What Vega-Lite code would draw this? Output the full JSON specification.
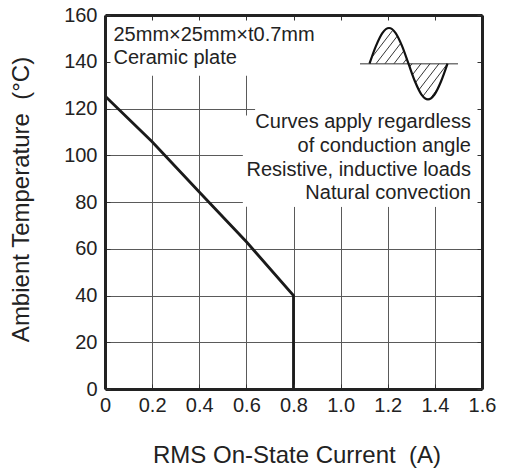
{
  "$schema": "https://vega.github.io/schema/vega-lite/v6.json",
  "width": 377,
  "height": 374,
  "autosize": {"type": "none"},
  "padding": {"left": 105, "top": 15, "right": 23, "bottom": 84},
  "background": "white",
  "config": {"font": "Liberation Sans", "view": {"stroke": null}},
  "datasets": {
    "curve": [
      {"i": 0, "current": 0, "temp": 125.3},
      {"i": 1, "current": 0.2, "temp": 105.8},
      {"i": 2, "current": 0.4, "temp": 84.3},
      {"i": 3, "current": 0.6, "temp": 63},
      {"i": 4, "current": 0.8, "temp": 40},
      {"i": 5, "current": 0.8, "temp": 0}
    ],
    "boxes": [
      {"x": 0, "x2": 1.6, "y": 134, "y2": 160},
      {"x": 0.637, "x2": 1.6, "y": 78, "y2": 160},
      {"x": 0.585, "x2": 1.6, "y": 78, "y2": 117}
    ],
    "wave": [
      {"x": 1.12255, "y": 139.17},
      {"x": 1.15013, "y": 146.80},
      {"x": 1.17772, "y": 152.39},
      {"x": 1.20531, "y": 154.44},
      {"x": 1.23289, "y": 152.39},
      {"x": 1.26048, "y": 146.80},
      {"x": 1.28806, "y": 139.17},
      {"x": 1.31565, "y": 131.53},
      {"x": 1.34324, "y": 125.94},
      {"x": 1.37082, "y": 123.89},
      {"x": 1.39841, "y": 125.94},
      {"x": 1.42599, "y": 131.53},
      {"x": 1.45358, "y": 139.17}
    ],
    "baseline": [{"x": 1.0822, "x2": 1.4981, "y": 139.17}],
    "hatch": [
      {"x": 1.13188, "y": 141.78, "x2": 1.22016, "y2": 153.33},
      {"x": 1.15013, "y": 139.17, "x2": 1.24011, "y2": 150.93},
      {"x": 1.18833, "y": 139.17, "x2": 1.25496, "y2": 147.89},
      {"x": 1.22653, "y": 139.17, "x2": 1.26812, "y2": 144.64},
      {"x": 1.26472, "y": 139.17, "x2": 1.28042, "y2": 141.22},
      {"x": 1.29273, "y": 137.84, "x2": 1.30292, "y2": 139.17},
      {"x": 1.30504, "y": 134.46, "x2": 1.34111, "y2": 139.17},
      {"x": 1.31777, "y": 131.08, "x2": 1.37931, "y2": 139.17},
      {"x": 1.33263, "y": 128.04, "x2": 1.41751, "y2": 139.17},
      {"x": 1.35045, "y": 125.39, "x2": 1.45146, "y2": 138.91},
      {"x": 1.38568, "y": 125.01, "x2": 1.40859, "y2": 128.00}
    ],
    "notesLeft": [
      {"x": 0.036, "y": 148.9, "text": "25mm×25mm×t0.7mm"},
      {"x": 0.036, "y": 139.25, "text": "Ceramic plate"}
    ],
    "notesRight": [
      {"x": 1.5533, "y": 111.66, "text": "Curves apply regardless"},
      {"x": 1.5533, "y": 101.39, "text": "of conduction angle"},
      {"x": 1.5533, "y": 91.12, "text": "Resistive, inductive loads"},
      {"x": 1.5533, "y": 81.28, "text": "Natural convection"}
    ]
  },
  "layer": [
    {
      "data": {"name": "boxes"},
      "mark": {"type": "rect", "color": "white", "strokeWidth": 0},
      "encoding": {
        "x": {"field": "x", "type": "quantitative", "scale": {"domain": [0, 1.6], "nice": false},
          "axis": {"orient": "bottom", "grid": true, "gridColor": "#5a5a5a", "gridWidth": 1, "domain": false, "ticks": false, "labels": false, "title": null, "values": [0, 0.2, 0.4, 0.6, 0.8, 1.0, 1.2, 1.4, 1.6], "zindex": 0}},
        "x2": {"field": "x2"},
        "y": {"field": "y", "type": "quantitative", "scale": {"domain": [0, 160], "nice": false},
          "axis": {"orient": "left", "grid": true, "gridColor": "#5a5a5a", "gridWidth": 1, "domain": false, "ticks": false, "labels": false, "title": null, "values": [0, 20, 40, 60, 80, 100, 120, 140, 160], "zindex": 0}},
        "y2": {"field": "y2"}
      }
    },
    {
      "data": {"name": "curve"},
      "mark": {"type": "line", "color": "#1a1a1a", "strokeWidth": 2.8},
      "encoding": {
        "x": {"field": "current", "type": "quantitative", "scale": {"domain": [0, 1.6], "nice": false},
          "axis": {"orient": "bottom", "grid": false, "values": [0, 0.2, 0.4, 0.6, 0.8, 1.0, 1.2, 1.4, 1.6],
            "labelExpr": "datum.value == 0 ? '0' : format(datum.value, '.1f')",
            "labelFontSize": 20, "labelColor": "#222", "labelPadding": 11.5, "labelFlush": false, "labelOverlap": false,
            "tickSize": -5, "tickColor": "#333", "tickWidth": 1,
            "domainColor": "#222", "domainWidth": 3,
            "title": "RMS On-State Current\u00a0\u00a0(A)", "titleFontSize": 24, "titleFontWeight": "normal", "titleColor": "#222",
            "titleX": 191.5, "titleY": 73, "titleBaseline": "alphabetic", "titleAlign": "center", "zindex": 1}},
        "y": {"field": "temp", "type": "quantitative", "scale": {"domain": [0, 160], "nice": false},
          "axis": {"orient": "left", "grid": false, "values": [0, 20, 40, 60, 80, 100, 120, 140, 160],
            "labelFontSize": 20, "labelColor": "#222", "labelPadding": 13, "labelOverlap": false,
            "tickSize": -5, "tickColor": "#333", "tickWidth": 1,
            "domainColor": "#222", "domainWidth": 3,
            "title": "Ambient Temperature\u00a0\u00a0(°C)", "titleFontSize": 24, "titleFontWeight": "normal", "titleColor": "#222",
            "titleX": -77, "titleY": 184, "titleAngle": 270, "titleBaseline": "alphabetic", "titleAlign": "center", "zindex": 1}},
        "order": {"field": "i"}
      }
    },
    {
      "data": {"name": "baseline"},
      "mark": {"type": "rule", "color": "#777", "strokeWidth": 1.5},
      "encoding": {
        "x": {"field": "x", "type": "quantitative", "axis": null},
        "x2": {"field": "x2"},
        "y": {"field": "y", "type": "quantitative", "axis": null}
      }
    },
    {
      "data": {"name": "hatch"},
      "mark": {"type": "rule", "color": "#333", "strokeWidth": 1},
      "encoding": {
        "x": {"field": "x", "type": "quantitative", "axis": null},
        "x2": {"field": "x2"},
        "y": {"field": "y", "type": "quantitative", "axis": null},
        "y2": {"field": "y2"}
      }
    },
    {
      "data": {"name": "wave"},
      "mark": {"type": "line", "color": "#111", "strokeWidth": 2.2, "interpolate": "monotone"},
      "encoding": {
        "x": {"field": "x", "type": "quantitative", "axis": null},
        "y": {"field": "y", "type": "quantitative", "axis": null}
      }
    },
    {
      "data": {"name": "notesLeft"},
      "mark": {"type": "text", "align": "left", "baseline": "alphabetic", "fontSize": 20, "color": "#222"},
      "encoding": {
        "x": {"field": "x", "type": "quantitative",
          "axis": {"orient": "top", "grid": false, "labels": false, "title": null, "values": [0, 0.2, 0.4, 0.6, 0.8, 1.0, 1.2, 1.4, 1.6],
            "tickSize": -5, "tickColor": "#333", "tickWidth": 1, "domainColor": "#222", "domainWidth": 3, "zindex": 1}},
        "y": {"field": "y", "type": "quantitative",
          "axis": {"orient": "right", "grid": false, "labels": false, "title": null, "values": [0, 20, 40, 60, 80, 100, 120, 140, 160],
            "tickSize": -5, "tickColor": "#333", "tickWidth": 1, "domainColor": "#222", "domainWidth": 3, "zindex": 1}},
        "text": {"field": "text"}
      }
    },
    {
      "data": {"name": "notesRight"},
      "mark": {"type": "text", "align": "right", "baseline": "alphabetic", "fontSize": 20, "color": "#222"},
      "encoding": {
        "x": {"field": "x", "type": "quantitative", "axis": null},
        "y": {"field": "y", "type": "quantitative", "axis": null},
        "text": {"field": "text"}
      }
    }
  ],
  "resolve": {"axis": {"x": "independent", "y": "independent"}}
}
